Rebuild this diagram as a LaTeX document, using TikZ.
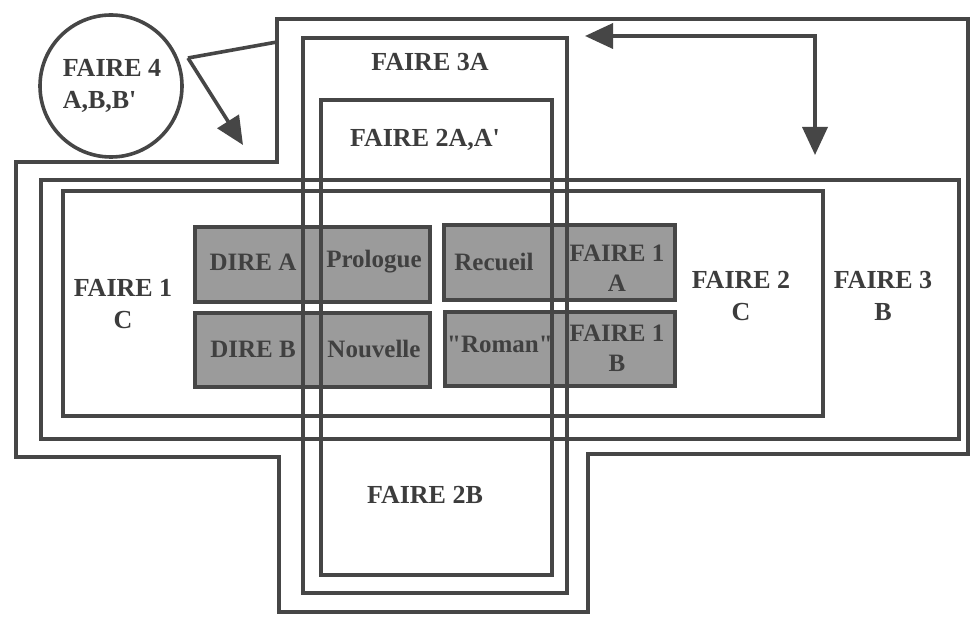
\documentclass[tikz,border=0pt]{standalone}
\usepackage{fontspec}
\setmainfont{Liberation Serif}
\usetikzlibrary{arrows.meta}
\definecolor{linec}{RGB}{70,70,70}
\definecolor{textc}{RGB}{60,60,60}
\definecolor{grayfill}{RGB}{155,155,155}
\tikzset{
  frame/.style={draw=linec, line width=3.6pt, rectangle, inner sep=0pt, outer sep=0pt},
  shadebox/.style={frame, fill=grayfill},
  lbl/.style={text=textc, font=\fontsize{26}{32}\selectfont\bfseries, inner sep=0pt, align=center},
  glbl/.style={text=black!75, font=\fontsize{25}{30}\selectfont\bfseries, inner sep=0pt, align=center},
  conn/.style={draw=linec, line width=3.6pt},
  bigtip/.tip={Triangle[length=28pt, width=25pt]}
}
\begin{document}
\begin{tikzpicture}[x=1pt, y=-1pt]
\useasboundingbox (0,0) rectangle (971,617);
\fill[white] (0,0) rectangle (971,617);

% shaded boxes
\node[shadebox, minimum width=235pt, minimum height=75pt] (g1) at (312.5,264.5) {};
\node[shadebox, minimum width=235pt, minimum height=74pt] (g2) at (312.5,350) {};
\node[shadebox, minimum width=231pt, minimum height=75pt] (g3) at (559.5,262.5) {};
\node[shadebox, minimum width=230pt, minimum height=74pt] (g4) at (560,349) {};

\node[glbl] (direa) at (253,262) {DIRE A};
\node[glbl] (prol) at (374,262) {Prologue};
\node[glbl] (direb) at (253,349) {DIRE B};
\node[glbl] (nouv) at (374,349) {Nouvelle};
\node[glbl] (recu) at (494,262) {Recueil};
\node[glbl] (roman) at (500,344) {\textquotedbl Roman\textquotedbl};
\node[glbl] (f1a) at (617,268) {FAIRE 1\\A};
\node[glbl] (f1b) at (617,348) {FAIRE 1\\B};

% outer cross-shaped frame
\draw[conn, line join=miter] (277,19) -- (968,19) -- (968,454) -- (588,454) -- (588,612)
  -- (279,612) -- (279,457) -- (16,457) -- (16,162) -- (277,162) -- cycle;

% nested frames
\node[frame, minimum width=264pt, minimum height=555pt] (f3a) at (435,315.5) {};
\node[frame, minimum width=231pt, minimum height=475pt] (f2a) at (436.5,337.5) {};
\node[frame, minimum width=918pt, minimum height=259pt] (f3b) at (500,309.5) {};
\node[frame, minimum width=760pt, minimum height=225pt] (f2c) at (443,303.5) {};

% labels
\node[lbl] (l3a) at (430,62) {FAIRE 3A};
\node[lbl] (l2a) at (425,140) {FAIRE 2A,A\textquotesingle};
\node[lbl] (l2b) at (425,495) {FAIRE 2B};
\node[lbl] (l1c) at (123,304) {FAIRE 1\\C};
\node[lbl] (l2c) at (741,296) {FAIRE 2\\C};
\node[lbl] (l3b) at (883,296) {FAIRE 3\\B};

% circle
\node[draw=linec, line width=3.6pt, circle, minimum size=142pt, inner sep=0pt] (f4) at (111,86) {};
\node[lbl, align=left] (l4) at (112,86) {FAIRE 4\\A,B,B\textquotesingle};

% connectors
\coordinate (fork) at (188,58);
\coordinate (hook) at (277,42);
\coordinate (tip1) at (243,145);
\draw[conn] (fork) -- (hook);
\draw[conn, -{bigtip}] (fork) -- (tip1);

\coordinate (tipL) at (585,36);
\coordinate (corner) at (815,36);
\coordinate (tipD) at (815,155);
\draw[conn, {bigtip}-{bigtip}, line join=miter] (tipL) -- (corner) -- (tipD);
\end{tikzpicture}
\end{document}
